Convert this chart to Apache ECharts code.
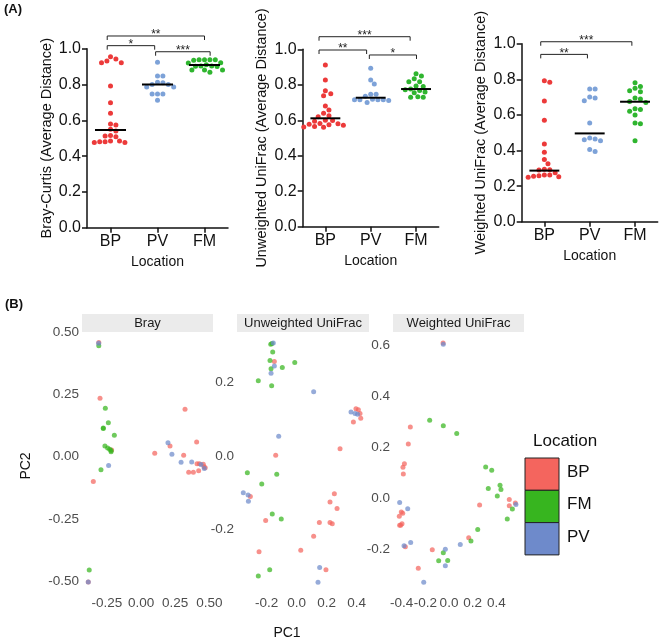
<!DOCTYPE html>
<html>
<head>
<meta charset="utf-8">
<script src="https://cdn.jsdelivr.net/npm/echarts@6/dist/echarts.min.js"></script>
<style>
html, body { margin: 0; padding: 0; background: #fff; }
#main { width: 660px; height: 642px; }
</style>
</head>
<body>
<div id="main"></div>
<script>
// ---------- (A) average distances ----------
var locA = ['BP', 'PV', 'FM'];
var colorsA = ['#EC3A3A', '#7DA2D8', '#2FB52F'];

var brayBPd = [0.955, 0.942, 0.931, 0.922, 0.922, 0.792, 0.698, 0.639, 0.579, 0.574, 0.55, 0.54, 0.515, 0.512, 0.508, 0.485, 0.48, 0.476, 0.476, 0.48, 0.485];
var brayPVd = [0.924, 0.847, 0.847, 0.812, 0.81, 0.80, 0.80, 0.786, 0.786, 0.747, 0.747, 0.747, 0.712];
var brayFMd = [0.938, 0.938, 0.936, 0.938, 0.938, 0.922, 0.92, 0.91, 0.903, 0.902, 0.9, 0.903, 0.881, 0.881, 0.881, 0.868];
var brayMed = [0.546, 0.80, 0.909];

var unwBPd = [0.911, 0.827, 0.767, 0.75, 0.738, 0.68, 0.658, 0.639, 0.625, 0.62, 0.60, 0.598, 0.595, 0.582, 0.58, 0.578, 0.575, 0.572, 0.565, 0.562, 0.56];
var unwPVd = [0.893, 0.827, 0.804, 0.746, 0.746, 0.735, 0.718, 0.716, 0.716, 0.716, 0.712, 0.716, 0.70];
var unwFMd = [0.862, 0.849, 0.834, 0.817, 0.817, 0.793, 0.79, 0.776, 0.772, 0.768, 0.76, 0.755, 0.733, 0.73, 0.73];
var unwMed = [0.611, 0.727, 0.776];

var weiBPd = [0.792, 0.783, 0.678, 0.57, 0.437, 0.39, 0.35, 0.326, 0.295, 0.292, 0.29, 0.275, 0.262, 0.258, 0.255, 0.252, 0.25, 0.262];
var weiPVd = [0.745, 0.745, 0.70, 0.695, 0.68, 0.555, 0.47, 0.465, 0.46, 0.455, 0.405, 0.395];
var weiFMd = [0.78, 0.76, 0.75, 0.735, 0.73, 0.695, 0.69, 0.675, 0.67, 0.635, 0.63, 0.62, 0.60, 0.555, 0.55, 0.455];
var weiMed = [0.287, 0.496, 0.674];

// [from, to, level, stars]
var brayBrackets = [[-0.07, 2.0, 1.071, '**'], [-0.07, 0.94, 1.017, '*'], [0.96, 2.12, 0.983, '***']];
var unwBrackets = [[-0.14, 1.87, 1.071, '***'], [-0.14, 0.91, 0.996, '**'], [0.97, 2.01, 0.968, '*']];
var weiBrackets = [[-0.08, 1.93, 1.011, '***'], [-0.08, 0.95, 0.94, '**']];

// ---------- (B) PCoA ----------
var locB = ['BP', 'FM', 'PV'];
var colorsB = ['#F4655E', '#37B51F', '#6E8ACB'];

var brayBP = [[-0.31, 0.458], [-0.301, 0.234], [-0.216, 0.027], [-0.35, -0.10], [0.322, 0.19], [0.212, 0.043], [0.407, 0.059], [0.10, 0.014], [0.312, 0.006], [0.41, -0.029], [0.427, -0.029], [0.456, -0.031], [0.461, -0.041], [0.349, -0.063], [0.383, -0.063], [0.422, -0.057], [0.47, -0.045], [-0.387, -0.503]];
var brayFM = [[-0.31, 0.445], [-0.262, 0.194], [-0.24, 0.136], [-0.277, 0.115], [-0.277, 0.113], [-0.196, 0.086], [-0.265, 0.043], [-0.245, 0.035], [-0.23, 0.03], [-0.22, 0.025], [-0.22, 0.02], [-0.294, -0.053], [-0.38, -0.455]];
var brayPV = [[-0.311, 0.455], [-0.238, -0.036], [-0.387, -0.503], [0.197, 0.056], [0.226, 0.01], [0.293, -0.022], [0.371, -0.021], [0.439, -0.032], [0.463, -0.048]];

var unwBP = [[-0.149, 0.256], [0.395, 0.128], [0.411, 0.125], [0.422, 0.115], [0.427, 0.102], [0.378, 0.092], [0.289, 0.019], [-0.14, 0.002], [-0.309, -0.11], [0.251, -0.103], [0.222, -0.125], [0.269, -0.143], [-0.207, -0.175], [0.151, -0.181], [0.222, -0.181], [0.237, -0.184], [0.113, -0.218], [0.027, -0.256], [-0.251, -0.26], [0.195, -0.309]];
var unwFM = [[-0.173, 0.303], [-0.165, 0.305], [-0.16, 0.282], [-0.178, 0.259], [-0.013, 0.253], [-0.171, 0.236], [-0.096, 0.24], [-0.256, 0.204], [-0.167, 0.19], [-0.329, -0.046], [-0.133, -0.05], [-0.233, -0.076], [-0.163, -0.158], [-0.103, -0.171], [-0.18, -0.309], [-0.256, -0.326]];
var unwPV = [[-0.156, 0.306], [-0.149, 0.244], [-0.171, 0.224], [0.113, 0.174], [0.362, 0.119], [0.389, 0.115], [0.406, 0.113], [-0.12, 0.053], [-0.356, -0.10], [-0.324, -0.106], [-0.322, -0.123], [0.153, -0.303], [0.142, -0.343]];

var weiBP = [[-0.05, 0.61], [-0.326, 0.28], [-0.343, 0.213], [-0.376, 0.136], [-0.388, 0.122], [-0.385, 0.095], [0.508, -0.005], [0.559, -0.019], [0.508, -0.029], [0.258, -0.026], [-0.402, -0.054], [-0.39, -0.059], [-0.419, -0.071], [-0.396, -0.10], [-0.407, -0.106], [-0.416, -0.106], [0.166, -0.155], [-0.368, -0.19], [-0.141, -0.202], [-0.259, -0.275]];
var weiFM = [[-0.163, 0.306], [-0.048, 0.285], [0.065, 0.254], [0.309, 0.123], [0.36, 0.11], [0.43, 0.051], [0.438, 0.034], [0.331, 0.038], [0.407, 0.009], [0.534, -0.042], [0.491, -0.081], [0.242, -0.123], [0.185, -0.168], [-0.048, -0.214], [-0.087, -0.245], [-0.011, -0.244]];
var weiPV = [[-0.048, 0.605], [0.564, -0.024], [-0.416, -0.017], [-0.348, -0.041], [0.095, -0.182], [-0.323, -0.174], [-0.379, -0.186], [-0.031, -0.20], [-0.031, -0.265], [-0.213, -0.33]];

// tick labels
var brayXTicks = [-0.25, 0, 0.25, 0.5];
var brayYTicks = [-0.5, -0.25, 0, 0.25, 0.5];
var unwXTicks = [-0.2, 0, 0.2, 0.4];
var unwYTicks = [-0.2, 0, 0.2];
var weiXTicks = [-0.4, -0.2, 0, 0.2, 0.4];
var weiYTicks = [-0.2, 0, 0.2, 0.4, 0.6];

var FONT = 'Liberation Sans, Arial, sans-serif';

//布局：网格位置
var gridsA = [
    { left: 87, top: 48.7, width: 141, height: 179 },
    { left: 302.7, top: 49.3, width: 136, height: 177.4 },
    { left: 521.7, top: 43.7, width: 136, height: 178 }
];
var gridsB = [
    { left: 82, top: 332, width: 131, height: 261 },
    { left: 237, top: 332, width: 132, height: 261 },
    { left: 393, top: 332, width: 131, height: 261 }
];
var rangesB = [
    { x: [-0.433, 0.527], y: [-0.547, 0.50] },
    { x: [-0.398, 0.482], y: [-0.372, 0.336] },
    { x: [-0.472, 0.632], y: [-0.372, 0.653] }
];

//散点横向错开（蜂群布局）
function swarmOffsets(vals, pxY, d) {
    var order = vals.map(function(v, i) { return i; }).sort(function(a, b) { return vals[b] - vals[a]; });
    var placed = [], offs = [];
    order.forEach(function(i) {
        var y = vals[i] * pxY;
        for (var k = 0; k < 120; k++) {
            var dx = Math.ceil(k / 2) * d / 3 * (k % 2 ? 1 : -1);
            var ok = placed.every(function(p) {
                var ex = p[0] - dx, ey = p[1] - y;
                return ex * ex + ey * ey >= d * d * 0.92;
            });
            if (ok) { placed.push([dx, y]); offs[i] = dx; break; }
        }
    });
    return offs;
}

var grid = [], xAxis = [], yAxis = [], series = [];

function addPanelA(gi, sets, med, brackets, yName) {
    var g = gridsA[gi];
    grid.push(g);
    var pxY = g.height, pxCat = g.width / 3;
    xAxis.push({
        gridIndex: grid.length - 1, type: 'value', min: -0.5, max: 2.5,
        name: 'Location', nameLocation: 'middle', nameGap: 27,
        nameTextStyle: { fontFamily: FONT, fontSize: 14, color: '#111' },
        axisLine: { show: true, onZero: false, lineStyle: { color: '#111', width: 1.5 } },
        axisTick: { show: true, length: 5, lineStyle: { color: '#111', width: 1.5 }, customValues: [0, 1, 2] },
        axisLabel: { customValues: [0, 1, 2], margin: 6, fontFamily: FONT, fontSize: 16, color: '#111',
            formatter: function(v) { return locA[Math.round(v)]; } },
        splitLine: { show: false }
    });
    yAxis.push({
        gridIndex: grid.length - 1, type: 'value', min: 0, max: 1, interval: 0.2,
        name: yName, nameLocation: 'middle', nameGap: 33,
        nameTextStyle: { fontFamily: FONT, fontSize: 14.5, color: '#111' },
        axisLine: { show: true, onZero: false, lineStyle: { color: '#111', width: 1.5 } },
        axisTick: { show: true, length: 5, lineStyle: { color: '#111', width: 1.5 } },
        axisLabel: { margin: 6, fontFamily: FONT, fontSize: 16, color: '#111',
            formatter: function(v) { return v.toFixed(1); } },
        splitLine: { show: false }
    });
    var ai = xAxis.length - 1;
    sets.forEach(function(vals, c) {
        var offs = swarmOffsets(vals, pxY, 5.4);
        series.push({
            type: 'scatter', xAxisIndex: ai, yAxisIndex: ai, symbolSize: 5,
            itemStyle: { color: colorsA[c], opacity: 1 },
            data: vals.map(function(v, i) { return [c + offs[i] / pxCat, v]; }),
            silent: true, z: 3
        });
    });
    //中位数线
    series.push({
        type: 'custom', xAxisIndex: ai, yAxisIndex: ai, z: 4, silent: true,
        data: med.map(function(m, i) { return [i, m]; }),
        renderItem: function(params, api) {
            var p1 = api.coord([api.value(0) - 0.33, api.value(1)]);
            var p2 = api.coord([api.value(0) + 0.33, api.value(1)]);
            return { type: 'line', shape: { x1: p1[0], y1: p1[1], x2: p2[0], y2: p2[1] },
                style: { stroke: '#000', lineWidth: 2 } };
        }
    });
    //显著性标注
    series.push({
        type: 'custom', xAxisIndex: ai, yAxisIndex: ai, z: 4, silent: true, clip: false,
        data: brackets,
        encode: { x: [0, 1], y: 2 },
        renderItem: function(params, api) {
            var b = brackets[params.dataIndex];
            var a = api.coord([b[0], b[2]]), e = api.coord([b[1], b[2]]);
            return { type: 'group', children: [
                { type: 'polyline', shape: { points: [[a[0], a[1] + 4], [a[0], a[1]], [e[0], e[1]], [e[0], e[1] + 4]] },
                  style: { stroke: '#222', lineWidth: 1, fill: null } },
                { type: 'text', style: { text: b[3], x: (a[0] + e[0]) / 2, y: a[1] - 1,
                  align: 'center', verticalAlign: 'middle', textAlign: 'center', textVerticalAlign: 'middle',
                  fontFamily: FONT, fontSize: 12, fill: '#222' } }
            ] };
        }
    });
}

function addPanelB(gi, groups, xt, yt, dec) {
    var g = gridsB[gi], r = rangesB[gi];
    grid.push(g);
    xAxis.push({
        gridIndex: grid.length - 1, type: 'value', min: r.x[0], max: r.x[1],
        axisLine: { show: false, onZero: false }, axisTick: { show: false }, splitLine: { show: false },
        axisLabel: { customValues: xt, margin: 3, fontFamily: FONT, fontSize: 13.5, color: '#4D4D4D',
            formatter: function(v) { return v.toFixed(dec[0]); } }
    });
    yAxis.push({
        gridIndex: grid.length - 1, type: 'value', min: r.y[0], max: r.y[1],
        axisLine: { show: false, onZero: false }, axisTick: { show: false }, splitLine: { show: false },
        axisLabel: { customValues: yt, margin: 3, fontFamily: FONT, fontSize: 13.5, color: '#4D4D4D',
            formatter: function(v) { return v.toFixed(dec[1]); } }
    });
    var ai = xAxis.length - 1;
    groups.forEach(function(pts, c) {
        series.push({
            type: 'scatter', xAxisIndex: ai, yAxisIndex: ai, symbolSize: 5, silent: true,
            itemStyle: { color: colorsB[c], opacity: 0.72 },
            data: pts
        });
    });
}

addPanelA(0, [brayBPd, brayPVd, brayFMd], brayMed, brayBrackets, 'Bray-Curtis (Average Distance)');
addPanelA(1, [unwBPd, unwPVd, unwFMd], unwMed, unwBrackets, 'Unweighted UniFrac (Average Distance)');
addPanelA(2, [weiBPd, weiPVd, weiFMd], weiMed, weiBrackets, 'Weighted UniFrac (Average Distance)');

addPanelB(0, [brayBP, brayFM, brayPV], brayXTicks, brayYTicks, [2, 2]);
addPanelB(1, [unwBP, unwFM, unwPV], unwXTicks, unwYTicks, [1, 1]);
addPanelB(2, [weiBP, weiFM, weiPV], weiXTicks, weiYTicks, [1, 1]);

//文字、分面标题、图例
var stripNames = ['Bray', 'Unweighted UniFrac', 'Weighted UniFrac'];
var graphics = [
    { type: 'text', x: 4, y: 3, style: { text: '(A)', fontFamily: FONT, fontSize: 13, fontWeight: 'bold', fill: '#111' } },
    { type: 'text', x: 5, y: 298, style: { text: '(B)', fontFamily: FONT, fontSize: 13, fontWeight: 'bold', fill: '#111' } },
    { type: 'text', x: 26, y: 466, rotation: Math.PI / 2,
      style: { text: 'PC2', fontFamily: FONT, fontSize: 14, fill: '#111', align: 'center', verticalAlign: 'middle', textAlign: 'center', textVerticalAlign: 'middle' } },
    { type: 'text', x: 287, y: 633,
      style: { text: 'PC1', fontFamily: FONT, fontSize: 14, fill: '#111', align: 'center', verticalAlign: 'middle', textAlign: 'center', textVerticalAlign: 'middle' } },
    { type: 'text', x: 533, y: 441,
      style: { text: 'Location', fontFamily: FONT, fontSize: 17, fill: '#111', align: 'left', verticalAlign: 'middle', textAlign: 'left', textVerticalAlign: 'middle' } }
];
gridsB.forEach(function(g, i) {
    graphics.push({ type: 'rect', shape: { x: g.left, y: 314, width: g.width, height: 18 }, style: { fill: '#EBEBEB' }, silent: true });
    graphics.push({ type: 'text', x: g.left + g.width / 2, y: 323.5,
        style: { text: stripNames[i], fontFamily: FONT, fontSize: 13, fill: '#1A1A1A', align: 'center', verticalAlign: 'middle', textAlign: 'center', textVerticalAlign: 'middle' } });
});
locB.forEach(function(name, i) {
    graphics.push({ type: 'rect', shape: { x: 525, y: 458 + i * 32.3, width: 34, height: 32.3 },
        style: { fill: colorsB[i], stroke: '#222', lineWidth: 1 } });
    graphics.push({ type: 'text', x: 567, y: 472 + i * 32.5,
        style: { text: name, fontFamily: FONT, fontSize: 17, fill: '#111', align: 'left', verticalAlign: 'middle', textAlign: 'left', textVerticalAlign: 'middle' } });
});

var myChart = echarts.init(document.getElementById('main'));
myChart.setOption({
    backgroundColor: '#fff',
    animation: false,
    grid: grid,
    xAxis: xAxis,
    yAxis: yAxis,
    series: series,
    graphic: graphics
});
</script>
</body>
</html>
